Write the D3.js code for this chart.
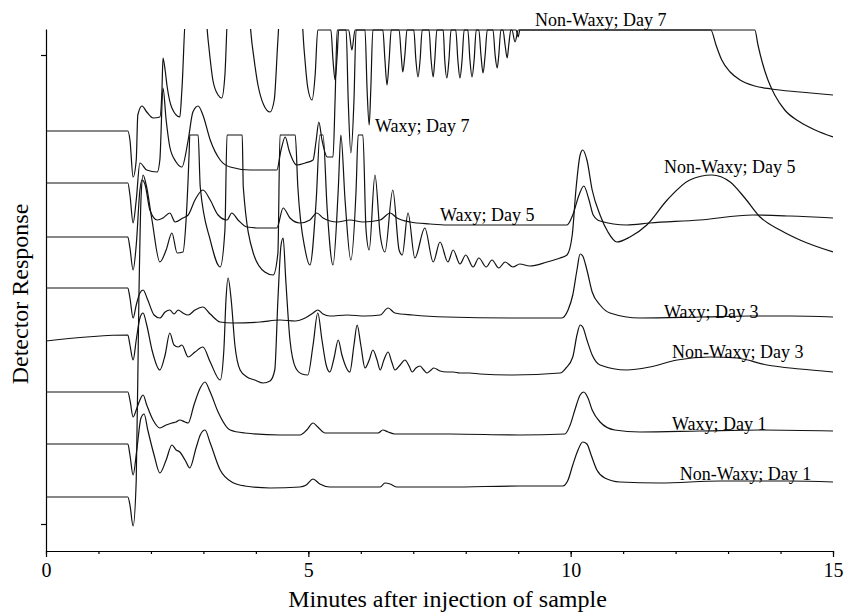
<!DOCTYPE html>
<html>
<head>
<meta charset="utf-8">
<script src="https://cdn.jsdelivr.net/npm/d3@7"></script>
<style>
  body { margin: 0; background: #fff; }
  .container { width: 851px; height: 614px; }
  text { font-family: "Liberation Serif", "Times New Roman", serif; fill: #000; }
  .axis path, .axis line { stroke: #000; stroke-width: 1.2; }
</style>
</head>
<body>
<div class="container"></div>
<script>
// each trace: [minutes, detector response (arbitrary units, offset per trace)]
const nonWaxyDay7 = [[0,393],[1.56,393],[1.60,384],[1.66,347],[1.72,364],[1.75,409],[1.83,418],[1.92,412],[2.04,406],[2.17,407],[2.21,434],[2.23,466],[2.27,454],[2.31,437],[2.40,416],[2.55,407],[2.59,434],[2.67,514],[3.03,514],[3.09,484],[3.18,444],[3.28,429],[3.35,426],[3.41,449],[3.47,514],[3.85,514],[3.93,479],[4.04,439],[4.15,419],[4.27,412],[4.35,424],[4.42,484],[4.46,514],[4.86,514],[4.92,474],[4.99,436],[5.07,424],[5.13,449],[5.18,494],[5.43,494],[5.47,464],[5.51,444],[5.55,469],[5.58,494],[5.77,494],[5.83,474],[5.89,494],[6.42,494],[6.46,464],[6.50,439],[6.54,464],[6.58,494],[7.01,494],[7.05,464],[7.09,447],[7.13,464],[7.17,494],[7.57,494],[7.60,464],[7.64,446],[7.68,464],[7.72,494],[8.04,494],[8.08,464],[8.12,447],[8.16,464],[8.20,494],[8.52,494],[8.56,469],[8.60,456],[8.63,469],[8.67,494],[8.88,494],[8.94,482],[9.00,494],[12.67,494],[12.77,479],[12.88,464],[13.04,452],[13.23,444],[13.51,438],[13.82,435],[14.37,432],[15.00,429]];

const waxyDay7 = [[0,341],[1.56,341],[1.60,329],[1.66,301],[1.72,324],[1.79,361],[1.92,354],[2.12,352],[2.17,364],[2.23,436],[2.29,404],[2.36,377],[2.48,362],[2.59,357],[2.71,384],[2.80,412],[2.90,418],[2.99,409],[3.13,384],[3.32,364],[3.51,357],[3.89,354],[4.40,354],[4.48,374],[4.56,387],[4.63,374],[4.78,359],[4.94,361],[5.09,364],[5.15,384],[5.20,402],[5.26,384],[5.36,367],[5.47,367],[5.51,424],[5.55,494],[5.72,494],[5.76,424],[5.81,371],[5.87,424],[5.91,494],[6.08,494],[6.12,434],[6.16,399],[6.19,434],[6.23,494],[6.73,494],[6.77,469],[6.80,452],[6.84,469],[6.88,494],[7.30,494],[7.34,464],[7.38,447],[7.41,464],[7.45,494],[7.81,494],[7.85,464],[7.89,446],[7.93,464],[7.97,494],[8.25,494],[8.29,469],[8.33,451],[8.37,469],[8.41,494],[8.71,494],[8.75,479],[8.79,466],[8.82,479],[8.86,494],[8.96,494],[9.00,487],[9.03,494],[13.51,494],[13.57,479],[13.65,462],[13.76,444],[13.89,429],[14.08,414],[14.37,402],[14.66,394],[15.00,387]];

const nonWaxyDay5 = [[0,27],[1.56,27],[1.60,19],[1.66,-2],[1.72,44],[1.77,224],[1.81,324],[1.85,349],[1.91,339],[2.02,304],[2.17,262],[2.29,274],[2.40,291],[2.50,271],[2.61,272],[2.67,304],[2.73,374],[2.74,389],[2.90,389],[2.94,337],[3.13,284],[3.32,257],[3.41,294],[3.45,389],[3.74,389],[3.76,337],[3.95,271],[4.17,252],[4.33,249],[4.42,271],[4.46,389],[4.75,389],[4.80,337],[4.94,274],[5.03,259],[5.15,324],[5.22,389],[5.28,389],[5.36,314],[5.47,259],[5.57,334],[5.62,389],[5.70,324],[5.81,264],[5.91,334],[5.95,389],[6.04,389],[6.10,294],[6.16,274],[6.27,349],[6.37,289],[6.46,272],[6.61,334],[6.73,274],[6.79,269],[6.90,311],[7.03,266],[7.22,296],[7.38,262],[7.51,282],[7.66,262],[7.76,274],[7.89,260],[8.00,269],[8.14,257],[8.25,266],[8.39,257],[8.50,264],[8.63,256],[8.75,262],[8.90,257],[9.03,260],[9.22,258],[9.55,262],[9.80,266],[9.93,269],[10.03,289],[10.10,334],[10.18,369],[10.23,374],[10.31,364],[10.41,334],[10.56,309],[10.71,292],[10.88,282],[11.13,287],[11.45,299],[11.84,324],[12.27,344],[12.69,349],[13.04,342],[13.32,326],[13.61,307],[13.99,294],[14.37,284],[15.00,272]];

const waxyDay5 = [[0,287],[1.56,287],[1.60,276],[1.66,254],[1.72,279],[1.79,334],[1.83,344],[1.89,339],[1.98,314],[2.12,304],[2.23,306],[2.36,311],[2.46,302],[2.61,306],[2.71,309],[2.84,324],[2.99,334],[3.13,324],[3.28,309],[3.45,304],[3.54,311],[3.66,304],[3.83,297],[4.08,296],[4.40,296],[4.52,316],[4.65,306],[4.84,301],[5.03,304],[5.16,311],[5.28,306],[5.55,302],[5.79,304],[6.04,302],[6.37,304],[6.56,311],[6.69,306],[6.94,302],[7.32,300],[7.64,299],[8.65,299],[9.42,299],[9.93,299],[10.04,309],[10.16,329],[10.25,338],[10.35,324],[10.43,309],[10.56,303],[11.07,299],[11.51,301],[12.46,304],[13.47,309],[14.18,308],[15.00,306]];

const waxyDay3 = [[0,236],[1.56,236],[1.60,226],[1.66,206],[1.72,219],[1.79,231],[1.85,234],[1.94,224],[2.06,209],[2.17,206],[2.27,212],[2.36,214],[2.44,210],[2.52,214],[2.61,211],[2.71,209],[2.84,214],[2.99,217],[3.13,210],[3.32,202],[3.56,201],[4.08,202],[4.46,204],[4.75,203],[4.94,206],[5.09,211],[5.18,214],[5.28,210],[5.41,208],[5.74,209],[6.08,208],[6.37,209],[6.52,216],[6.65,211],[6.99,209],[7.64,207],[8.90,206],[9.83,206],[9.95,214],[10.04,229],[10.12,254],[10.18,270],[10.23,268],[10.31,254],[10.41,232],[10.56,219],[10.75,211],[11.32,206],[12.46,207],[13.42,208],[14.18,208],[15.00,207]];

const nonWaxyDay3 = [[0,183],[1.56,189],[1.60,179],[1.66,164],[1.72,184],[1.79,206],[1.85,211],[1.92,199],[2.02,174],[2.17,154],[2.27,169],[2.36,191],[2.44,179],[2.52,177],[2.59,179],[2.71,167],[2.84,172],[2.99,177],[3.13,162],[3.32,144],[3.39,174],[3.43,224],[3.47,246],[3.53,224],[3.60,179],[3.70,154],[3.83,147],[3.98,144],[4.14,141],[4.27,143],[4.36,154],[4.42,224],[4.48,279],[4.52,286],[4.57,244],[4.65,184],[4.76,156],[4.88,150],[4.99,149],[5.09,179],[5.18,211],[5.26,184],[5.34,159],[5.41,152],[5.49,166],[5.57,184],[5.64,169],[5.79,152],[5.87,179],[5.93,199],[6.00,179],[6.08,156],[6.16,164],[6.23,174],[6.31,164],[6.37,154],[6.44,164],[6.52,172],[6.59,162],[6.65,154],[6.75,159],[6.84,164],[6.92,158],[6.98,152],[7.05,156],[7.13,158],[7.20,154],[7.26,151],[7.34,154],[7.39,156],[7.51,153],[7.64,152],[7.76,152],[7.89,151],[8.08,151],[8.27,150],[8.90,149],[9.80,151],[9.91,156],[10.04,167],[10.12,189],[10.18,199],[10.23,197],[10.31,184],[10.41,169],[10.56,159],[11.07,154],[11.51,157],[12.03,164],[12.66,167],[13.17,166],[13.74,159],[14.37,155],[15.00,152]];

const waxyDay1 = [[0,132],[1.56,132],[1.60,124],[1.66,107],[1.72,114],[1.79,124],[1.85,129],[1.92,119],[2.04,104],[2.17,96],[2.29,99],[2.40,101],[2.48,102],[2.55,104],[2.65,102],[2.71,101],[2.82,119],[2.94,136],[3.03,142],[3.13,132],[3.28,112],[3.51,94],[3.79,91],[4.46,89],[4.84,89],[4.97,94],[5.09,101],[5.18,97],[5.32,91],[5.79,91],[6.33,91],[6.42,94],[6.52,92],[6.65,90],[7.70,90],[9.03,89],[9.89,90],[9.99,99],[10.08,114],[10.18,129],[10.25,132],[10.33,126],[10.41,114],[10.56,102],[10.84,94],[11.32,92],[12.46,93],[13.61,94],[15.00,93]];

const nonWaxyDay1 = [[0,80],[1.56,80],[1.60,69],[1.66,49],[1.73,74],[1.81,106],[1.87,110],[1.94,94],[2.06,69],[2.17,51],[2.29,64],[2.40,79],[2.48,74],[2.55,72],[2.65,64],[2.74,56],[2.86,76],[2.94,89],[3.03,94],[3.13,81],[3.32,54],[3.54,42],[3.79,38],[4.27,36],[4.84,37],[4.96,39],[5.09,45],[5.22,40],[5.41,37],[6.37,37],[6.46,41],[6.56,40],[6.69,37],[7.70,37],[9.03,38],[9.85,38],[9.95,44],[10.04,59],[10.14,74],[10.23,82],[10.31,80],[10.39,69],[10.50,54],[10.65,46],[10.94,42],[11.70,41],[12.85,43],[14.18,43],[15.00,42]];

const seriesNames = ["Non-Waxy; Day 7", "Waxy; Day 7", "Non-Waxy; Day 5", "Waxy; Day 5", "Waxy; Day 3", "Non-Waxy; Day 3", "Waxy; Day 1", "Non-Waxy; Day 1"];
const seriesValues = [nonWaxyDay7, waxyDay7, nonWaxyDay5, waxyDay5, waxyDay3, nonWaxyDay3, waxyDay1, nonWaxyDay1];
const xTicks = [0, 5, 10, 15];
const xMinorTicks = d3.range(0, 16, 1);
const yTicks = [0, 469];

// where each label sits, in data coordinates (left edge, baseline)
const labelAt = [[9.32, 498], [6.27, 392], [11.78, 351], [7.51, 303], [11.78, 206], [11.93, 166], [11.93, 94], [12.08, 44]];

const W = 851, H = 614;
const margin = { left: 46, right: 833, top: 29, bottom: 551 };

const x = d3.scaleLinear().domain([0, 15]).range([margin.left, margin.right]);
const y = d3.scaleLinear().domain([-27, 495]).range([margin.bottom, margin.top]);

const svg = d3.select(".container").append("svg").attr("width", W).attr("height", H);

svg.append("clipPath").attr("id", "plot").append("rect")
  .attr("x", margin.left).attr("y", margin.top)
  .attr("width", margin.right - margin.left).attr("height", margin.bottom - margin.top);

//Axes
svg.append("g").attr("class", "axis").attr("transform", "translate(0," + margin.bottom + ")")
  .call(d3.axisBottom(x).tickValues(xMinorTicks).tickSize(3).tickSizeOuter(0).tickFormat(""));
svg.append("g").attr("class", "axis").attr("transform", "translate(0," + margin.bottom + ")")
  .call(d3.axisBottom(x).tickValues(xTicks).tickSize(6).tickSizeOuter(0).tickPadding(6))
  .call(g => g.selectAll("text").style("font-size", "20px"));
svg.append("g").attr("class", "axis").attr("transform", "translate(" + margin.left + ",0)")
  .call(d3.axisLeft(y).tickValues(yTicks).tickSize(5).tickSizeOuter(0).tickFormat(""));

//Traces
const line = d3.line().x(d => x(d[0])).y(d => y(d[1])).curve(d3.curveMonotoneX);
svg.append("g").attr("clip-path", "url(#plot)")
  .selectAll("path.trace").data(seriesValues).enter().append("path")
  .attr("class", "trace")
  .attr("d", line)
  .attr("fill", "none").attr("stroke", "#111").attr("stroke-width", 1.2)
  .attr("stroke-linejoin", "round");

//Trace labels
svg.selectAll("text.lab").data(seriesNames).enter().append("text")
  .attr("class", "lab")
  .attr("x", (d, i) => x(labelAt[i][0]))
  .attr("y", (d, i) => y(labelAt[i][1]))
  .style("font-size", "18px")
  .text(d => d);

//Axis titles
svg.append("text").attr("x", (margin.left + margin.right) / 2 + 8).attr("y", 607)
  .attr("text-anchor", "middle").style("font-size", "24px")
  .text("Minutes after injection of sample");
svg.append("text").attr("transform", "translate(28," + 294 + ") rotate(-90)")
  .attr("text-anchor", "middle").style("font-size", "24px")
  .text("Detector Response");
</script>
</body>
</html>
